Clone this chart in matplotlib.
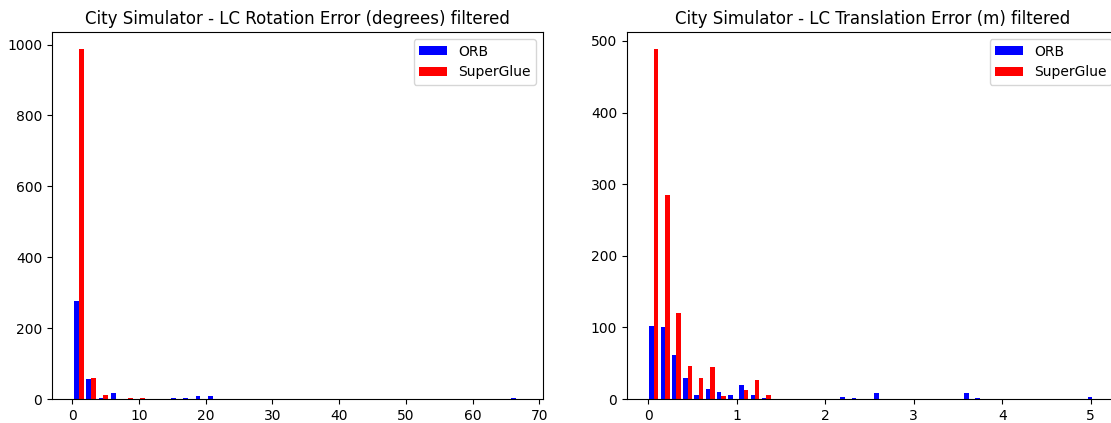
import numpy as np
import matplotlib.pyplot as plt

# histogram counts per bin, ORB vs SuperGlue loop closures
rot_range = (0.12, 67.4)
rot_bins = 37
rot_orb = [276, 56, 3, 17, 0, 0, 0, 0, 3, 3, 8, 9] + [0] * 24 + [3]
rot_sg = [986, 59, 12, 0, 3, 3] + [0] * 31

trans_range = (0.0, 5.08)
trans_bins = 40
trans_orb = [102, 100, 61, 29, 6, 14, 10, 6, 20, 6, 2,
             0, 0, 0, 0, 0, 0, 3, 2, 0, 9,
             0, 0, 0, 0, 0, 0, 0, 8, 2,
             0, 0, 0, 0, 0, 0, 0, 0, 0, 3]
trans_sg = [488, 285, 120, 46, 30, 45, 4, 0, 12, 27, 5] + [0] * 29

labels = ['ORB', 'SuperGlue']
colors = ['blue', 'red']


def plot_hist(ax, value_range, n_bins, orb, sg, title):
    edges = np.linspace(value_range[0], value_range[1], n_bins + 1)
    centers = (edges[:-1] + edges[1:]) / 2
    ax.hist([centers, centers], bins=edges, weights=[orb, sg],
            color=colors, label=labels)
    ax.set_title(title)
    ax.legend()


fig = plt.figure(figsize=(11.11, 4.23), dpi=100)
ax1 = fig.add_axes([52 / 1111, 24 / 423, 491 / 1111, 367 / 423])
# right panel runs slightly past the figure edge
ax2 = fig.add_axes([627 / 1111, 24 / 423, 492 / 1111, 367 / 423])

plot_hist(ax1, rot_range, rot_bins, rot_orb, rot_sg,
          'City Simulator - LC Rotation Error (degrees) filtered')
plot_hist(ax2, trans_range, trans_bins, trans_orb, trans_sg,
          'City Simulator - LC Translation Error (m) filtered')

fig.savefig('out.png', dpi=100)
